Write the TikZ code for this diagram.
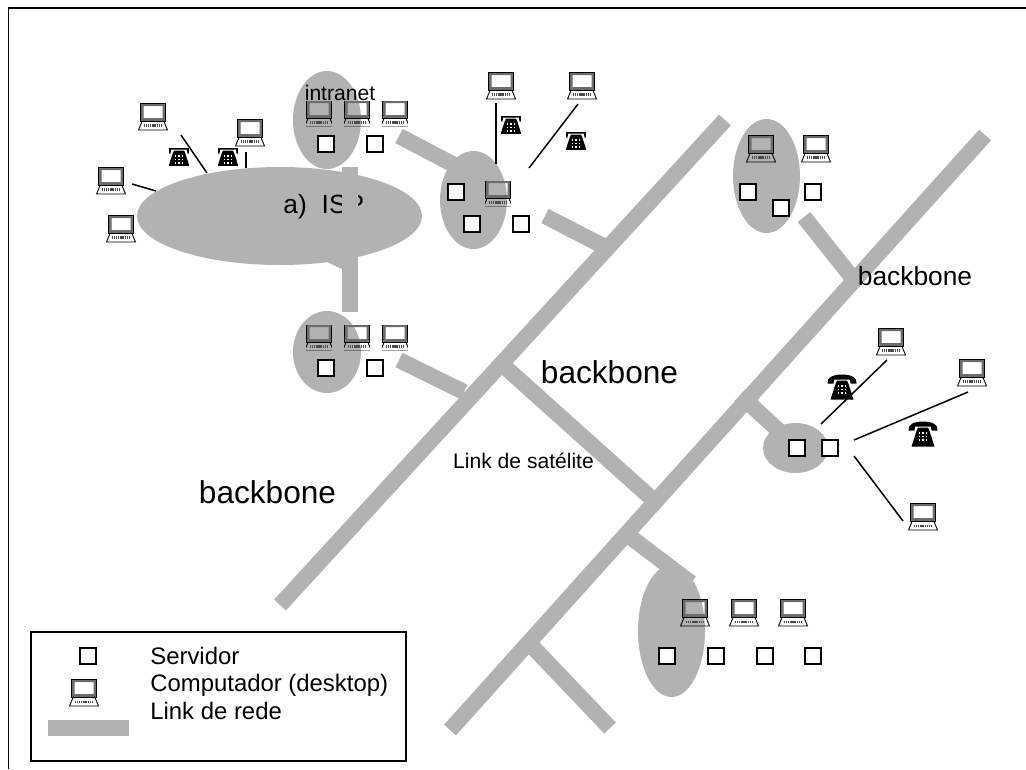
\documentclass[tikz,border=0pt]{standalone}
\usepackage{fontspec}
\setmainfont{Liberation Sans}
\usetikzlibrary{shapes.geometric,calc}
\definecolor{linkgray}{HTML}{B2B2B2}

\begin{document}
\begin{tikzpicture}[
    x=0.02cm, y=-0.02cm,
    area/.style={ellipse, fill=linkgray, inner sep=0pt},
    link/.style={draw=linkgray, line width=0.32cm},
    wire/.style={draw, line width=0.85pt},
    server/.style={draw, fill=white, line width=0.95pt, rectangle, inner sep=0pt, minimum width=0.32cm, minimum height=0.32cm},
    laptop/.style={rectangle, inner sep=0pt, minimum width=#1*0.62cm, minimum height=#1*0.58cm, path picture={
        \begin{scope}[shift={(path picture bounding box.center)}, scale=#1]
            \fill[gray!85!black, even odd rule] (-12.5,-13.5) rectangle (12.5,4) (-9.5,-10.8) rectangle (9.5,1);
            \draw[line width=0.35pt] (-12.5,-13.5) rectangle (12.5,4);
            \draw[line width=0.5pt] (-11,4.5) -- (11,4.5) -- (14.5,13) -- (-14.5,13) -- cycle;
            \draw[line width=1.5pt, dash pattern=on 0.8pt off 0.45pt, black!70] (-9.5,8.8) -- (9.5,8.8);
        \end{scope}}},
    laptop/.default=1,
    phoneicon/.style={rectangle, inner sep=0pt, minimum width=#1*0.6cm, minimum height=#1*0.52cm, path picture={
        \begin{scope}[shift={(path picture bounding box.center)}, scale=#1]
            \fill (-14.5,-3.5) .. controls (-15.5,-9.5) and (-9,-12.5) .. (0,-12.5) .. controls (9,-12.5) and (15.5,-9.5) .. (14.5,-3.5) -- (8.5,-3.5) -- (8,-7.5) -- (-8,-7.5) -- (-8.5,-3.5) -- cycle;
            \fill (-5,-6.5) -- (5,-6.5) -- (6.5,-3) -- (11.5,12.5) -- (-11.5,12.5) -- (-6.5,-3) -- cycle;
            \foreach \i in {-3.4,0,3.4} \foreach \j in {-1,2.5,6}
                \fill[white] (\i-0.8,\j-0.8) rectangle (\i+0.8,\j+0.8);
        \end{scope}}},
    bigtext/.style={font=\fontsize{18pt}{20pt}\selectfont, inner sep=0pt},
    midtext/.style={font=\fontsize{15pt}{17pt}\selectfont, inner sep=0pt},
    smalltext/.style={font=\fontsize{12pt}{14pt}\selectfont, inner sep=0pt},
    legendtext/.style={font=\fontsize{13.6pt}{15pt}\selectfont, inner sep=0pt, anchor=west}
]
\useasboundingbox (0,0) rectangle (1026,769);

% page border
\coordinate (cornertl) at (8.5,8);
\coordinate (cornertr) at (1026,8);
\coordinate (cornerbl) at (8.5,769);
\draw[line width=1.1pt] (cornerbl) -- (cornertl) -- (cornertr);

% grey areas
\node[area, minimum width=5.7cm, minimum height=1.96cm] (ispcloud) at (279.5,216) {};
\node[area, minimum width=1.36cm, minimum height=1.96cm] (intranetarea) at (327,120) {};
\node[area, minimum width=1.34cm, minimum height=1.96cm] (midarea) at (473.5,200) {};
\node[area, minimum width=1.36cm, minimum height=1.64cm] (lowarea) at (327,352) {};
\node[area, minimum width=1.34cm, minimum height=2.28cm] (toprightarea) at (766.5,176) {};
\node[area, minimum width=1.3cm, minimum height=1cm] (dialarea) at (795.5,448) {};
\node[area, minimum width=1.34cm, minimum height=2.64cm] (bottomarea) at (671.5,631) {};

\node[midtext, anchor=base west] (isplabel) at (283,213) {a)\hspace{8.5pt}ISP};

% network links
\foreach \name/\ax/\ay/\bx/\by in {
    bbleft/280/605/725/120,
    bbright/450/730/985/135,
    satellite/505/367/650/497,
    bottomstub/528/642/610/728,
    tolowarea/625/533/691/583,
    todial/740/395/790/441,
    totopright/804/217/858/285,
    lowout/399/360/464/392,
    intranetout/399/136/460/168,
    midout/545/216/607/248,
    ispwedge/310/245/350/264,
    ispdown/350/167/350/312}
{
    \coordinate (\name a) at (\ax,\ay);
    \coordinate (\name b) at (\bx,\by);
    \draw[link] (\name a) -- (\name b);
}

% computers
\foreach \name/\x/\y in {
    pca/153/117, pcb/250/133, pcc/111/181, pcd/121/229,
    pch/501/86, pci/582/86,
    pcn/761/149, pco/816/149,
    pcp/891/342, pcq/972/373, pcr/923/517,
    pcs/695/613, pct/744/613, pcu/793/613}
    \node[laptop] (\name) at (\x,\y) {};
\foreach \name/\x/\y in {
    pce/319/114, pcf/357/114, pcg/395/114,
    pcj/498/194,
    pck/319/338, pcl/357/338, pcm/395/338}
    \node[laptop=0.83] (\name) at (\x,\y) {};

% servers
\foreach \name/\x/\y in {
    srva/326/144, srvb/375/144,
    srvc/456/192, srvd/472/224, srve/521/224,
    srvf/326/368, srvg/375/368,
    srvh/748/192, srvi/781/208, srvj/813/192,
    srvk/797/448, srvl/830/448,
    srvm/667/656, srvn/716/656, srvo/765/656, srvp/813/656}
    \node[server] (\name) at (\x,\y) {};

% telephones
\node[phoneicon=0.66] (tela) at (179,157) {};
\node[phoneicon=0.66] (telb) at (228,157) {};
\node[phoneicon=0.66] (telc) at (511,125) {};
\node[phoneicon=0.66] (teld) at (576,141) {};
\node[phoneicon=1] (tele) at (842,387) {};
\node[phoneicon=1] (telf) at (923,434) {};

% dial-up lines
\foreach \name/\ax/\ay/\bx/\by in {
    dla/181/135/207/173,
    dlb/246/152/246/168,
    dlc/132/184/156/191,
    dld/496/103/496/164,
    dle/578/104/529/168,
    dlf/887/360/821/424,
    dlg/968/392/854/440,
    dlh/903/521/854/456}
{
    \coordinate (\name a) at (\ax,\ay);
    \coordinate (\name b) at (\bx,\by);
    \draw[wire] (\name a) -- (\name b);
}

% labels
\node[smalltext] (intranetlabel) at (340,93) {intranet};
\node[bigtext] (bbcentre) at (609.5,372) {backbone};
\node[bigtext] (bbwest) at (267.5,492) {backbone};
\node[midtext] (bbeast) at (915,276) {backbone};
\node[smalltext] (satlabel) at (523.5,461) {Link de satélite};

% legend
\node[draw, line width=0.85pt, rectangle, inner sep=0pt, minimum width=7.5cm, minimum height=2.58cm] (legendbox) at (218.5,696.5) {};
\node[server] (legendserver) at (88,656) {};
\node[laptop] (legendpc) at (84,693) {};
\coordinate (legendlinka) at (48,728);
\coordinate (legendlinkb) at (129,728);
\draw[link] (legendlinka) -- (legendlinkb);
\node[legendtext] (legendone) at (150,656) {Servidor};
\node[legendtext] (legendtwo) at (150,685) {Computador (desktop)};
\node[legendtext] (legendthree) at (150,711) {Link de rede};
\end{tikzpicture}
\end{document}
